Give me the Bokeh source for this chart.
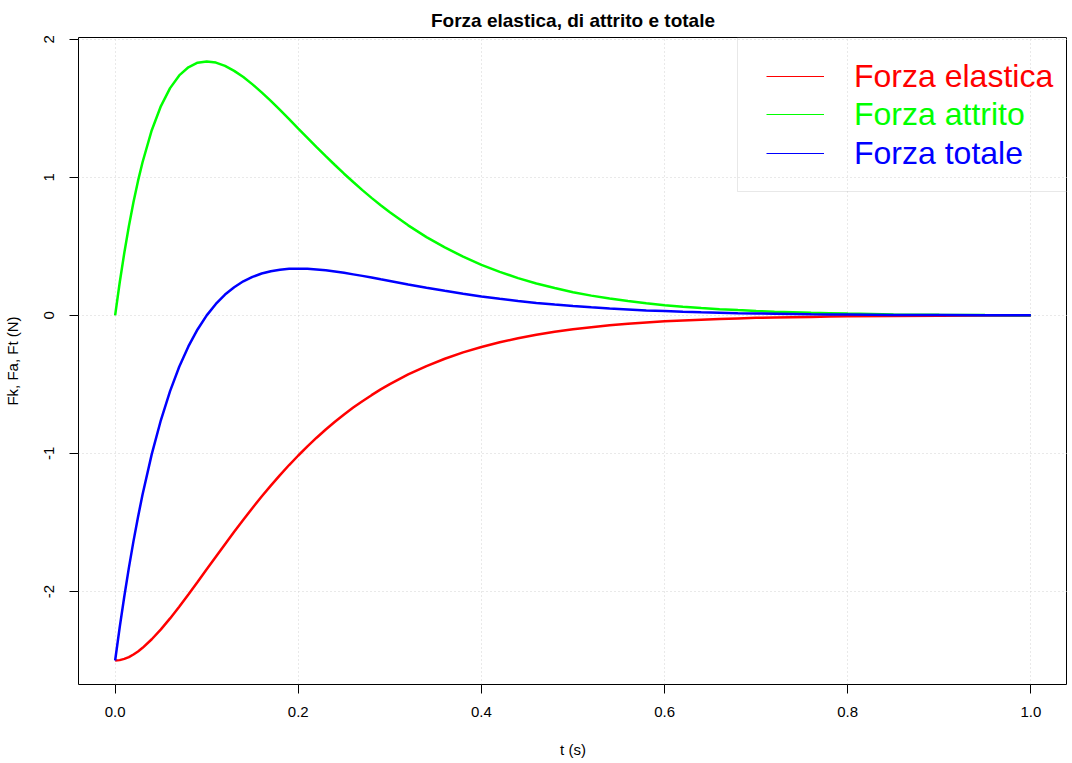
#!/usr/bin/env python3
# -*- coding: utf-8 -*-
from bokeh.embed import file_html
from bokeh.models import BoxAnnotation, ColumnDataSource, FixedTicker, Legend, LegendItem, NumeralTickFormatter, Range1d
from bokeh.plotting import figure
from bokeh.resources import INLINE

TITLE = "Forza elastica, di attrito e totale"
X_LABEL = "t (s)"
Y_LABEL = "Fk, Fa, Ft (N)"

# tempo (s)
T = [0.000, 0.005, 0.010, 0.015, 0.020, 0.025,
     0.03, 0.04, 0.05, 0.06, 0.07, 0.08, 0.09, 0.10, 0.11, 0.12, 0.13, 0.14, 0.15, 0.16,
     0.17, 0.18, 0.19, 0.20, 0.21, 0.22, 0.23, 0.24, 0.25, 0.26, 0.27, 0.28, 0.29, 0.30,
     0.32, 0.34, 0.36, 0.38, 0.40, 0.42, 0.44, 0.46, 0.48, 0.50,
     0.52, 0.54, 0.56, 0.58, 0.60, 0.62, 0.64, 0.66, 0.68, 0.70,
     0.72, 0.74, 0.76, 0.78, 0.80, 0.85, 0.90, 0.95, 1.00]

# forza elastica
FK = [-2.500, -2.497, -2.488, -2.475, -2.456, -2.434,
      -2.408, -2.346, -2.274, -2.195, -2.110, -2.022, -1.931, -1.839, -1.748, -1.657, -1.567, -1.480, -1.395, -1.312,
      -1.233, -1.157, -1.084, -1.015, -0.949, -0.886, -0.827, -0.771, -0.718, -0.668, -0.622, -0.578, -0.536, -0.498,
      -0.428, -0.367, -0.314, -0.268, -0.229, -0.195, -0.166, -0.141, -0.119, -0.101,
      -0.086, -0.072, -0.061, -0.051, -0.043, -0.037, -0.031, -0.026, -0.022, -0.018,
      -0.015, -0.013, -0.011, -0.009, -0.007, -0.004, -0.002, -0.001, -0.001]

# forza di attrito
FA = [0.000, 0.238, 0.452, 0.646, 0.819, 0.974,
      1.111, 1.341, 1.516, 1.646, 1.738, 1.797, 1.830, 1.839, 1.831, 1.807, 1.771, 1.726, 1.673, 1.615,
      1.553, 1.488, 1.421, 1.353, 1.286, 1.219, 1.153, 1.089, 1.026, 0.966, 0.907, 0.851, 0.798, 0.747,
      0.652, 0.567, 0.492, 0.425, 0.366, 0.315, 0.270, 0.231, 0.198, 0.168,
      0.143, 0.122, 0.104, 0.088, 0.074, 0.063, 0.053, 0.045, 0.038, 0.032,
      0.027, 0.023, 0.019, 0.016, 0.013, 0.007, 0.004, 0.002, 0.001]

# forza totale
FT = [-2.500, -2.259, -2.036, -1.829, -1.637, -1.460,
      -1.296, -1.005, -0.758, -0.549, -0.372, -0.225, -0.102, 0.000, 0.083, 0.151, 0.204, 0.247, 0.279, 0.303,
      0.320, 0.331, 0.337, 0.338, 0.337, 0.332, 0.326, 0.318, 0.308, 0.297, 0.286, 0.274, 0.261, 0.249,
      0.224, 0.200, 0.178, 0.157, 0.137, 0.120, 0.104, 0.090, 0.078, 0.067,
      0.058, 0.050, 0.043, 0.036, 0.031, 0.026, 0.022, 0.019, 0.016, 0.014,
      0.012, 0.010, 0.008, 0.007, 0.006, 0.003, 0.002, 0.001, 0.000]

SERIES = [("Forza elastica", "fk", "red"), ("Forza attrito", "fa", "lime"), ("Forza totale", "ft", "blue")]
X_TICKS = [0.0, 0.2, 0.4, 0.6, 0.8, 1.0]
Y_TICKS = [-2, -1, 0, 1, 2]
Y_TICK_LABELS = ["-2", "-1", "0", "1", "2"]

FONT = "Liberation Sans"
FRAME_W, FRAME_H = 989, 647


def r_range(vals):
    # come R: 4% in più da ogni lato
    lo, hi = min(vals), max(vals)
    pad = (hi - lo) * 0.04
    return Range1d(lo - pad, hi + pad)


source = ColumnDataSource(data={"t": T, "fk": FK, "fa": FA, "ft": FT})

p = figure(
    frame_width=FRAME_W,
    frame_height=FRAME_H,
    title=TITLE,
    x_range=r_range(T),
    y_range=r_range(FK + FA + FT),
    x_axis_label=X_LABEL,
    y_axis_label=Y_LABEL,
    output_backend="svg",
    toolbar_location=None,
    min_border_left=0,
    min_border_right=0,
    min_border_top=0,
    min_border_bottom=0,
)

for name, col, color in SERIES:
    p.line(x="t", y=col, source=source, line_width=2.5, color=color)

p.outline_line_color = "black"
p.outline_line_width = 1

p.title.align = "center"
p.title.text_font = FONT
p.title.text_font_size = "19px"
p.title.text_font_style = "bold"
p.title.text_color = "black"
p.title.standoff = 14

for ax in (p.xaxis[0], p.yaxis[0]):
    ax.axis_line_color = None
    ax.major_tick_out = 9
    ax.major_tick_in = 0
    ax.minor_tick_line_color = None
    ax.major_tick_line_color = "black"
    ax.major_label_text_font = FONT
    ax.major_label_text_font_size = "15px"
    ax.major_label_text_color = "black"
    ax.axis_label_text_font = FONT
    ax.axis_label_text_font_size = "15px"
    ax.axis_label_text_font_style = "normal"
    ax.axis_label_text_color = "black"

p.xaxis.ticker = FixedTicker(ticks=X_TICKS)
p.xaxis.formatter = NumeralTickFormatter(format="0.0")
p.xaxis.major_label_standoff = 13
p.xaxis.axis_label_standoff = 21

p.yaxis.ticker = FixedTicker(ticks=Y_TICKS)
p.yaxis.major_label_overrides = dict(zip(Y_TICKS, Y_TICK_LABELS))
p.yaxis.major_label_orientation = "vertical"
p.yaxis.major_label_standoff = 15
p.yaxis.axis_label_standoff = 21

for g in (p.xgrid[0], p.ygrid[0]):
    g.grid_line_color = "#d3d3d3"
    g.grid_line_dash = "1 3"
    g.grid_line_width = 1
p.xgrid.ticker = FixedTicker(ticks=X_TICKS)
p.ygrid.ticker = FixedTicker(ticks=Y_TICKS)

# legenda: cornice grigia in alto a destra, testo colorato per ogni voce
p.add_layout(BoxAnnotation(
    left=FRAME_W - 330, right=FRAME_W, top=FRAME_H, bottom=FRAME_H - 154,
    left_units="screen", right_units="screen", top_units="screen", bottom_units="screen",
    fill_alpha=0, line_color="#b4b4b4", line_width=1,
))

row_centers = [39, 77, 116]
for (name, col, color), cy in zip(SERIES, row_centers):
    r = p.line(x=[float("nan")], y=[float("nan")], line_width=1, color=color)
    leg = Legend(
        items=[LegendItem(label=name, renderers=[r])],
        location=(FRAME_W - 301, FRAME_H - cy - 19),
        glyph_width=58, glyph_height=38, label_height=38,
        label_standoff=30, padding=0, margin=0, spacing=0,
        border_line_color=None, background_fill_alpha=0,
        label_text_font=FONT, label_text_font_size="32px", label_text_color=color,
    )
    p.add_layout(leg)

open("out.html", "w").write(file_html(p, INLINE))
